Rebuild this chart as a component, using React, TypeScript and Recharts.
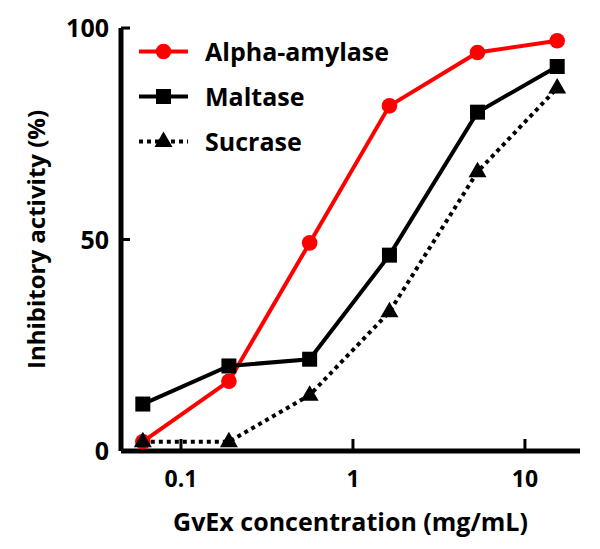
import React from 'react';
import { LineChart, Line, XAxis, YAxis, Legend } from 'recharts';

const concentrations = [0.06, 0.19, 0.56, 1.63, 5.3, 15.4];
const alphaAmylase = [2.2, 16.5, 49.2, 81.6, 94.2, 97.0];
const maltase = [11.1, 20.1, 21.7, 46.3, 80.1, 90.9];
const sucrase = [2.2, 2.2, 13.2, 32.9, 66.0, 85.8];

const xTicks = [0.1, 1, 10];
const yTicks = [0, 50, 100];

const FONT = "'Open Sans', Lato, sans-serif";

const data = concentrations.map((x, i) => ({
  x,
  alpha: alphaAmylase[i],
  maltase: maltase[i],
  sucrase: sucrase[i],
}));

type Shape = 'circle' | 'square' | 'triangle';

const series: { key: string; name: string; color: string; dash?: string; shape: Shape }[] = [
  { key: 'alpha', name: 'Alpha-amylase', color: '#ff0000', shape: 'circle' },
  { key: 'maltase', name: 'Maltase', color: '#000000', shape: 'square' },
  { key: 'sucrase', name: 'Sucrase', color: '#000000', dash: '4 4', shape: 'triangle' },
];

function marker(shape: Shape, cx: number, cy: number, color: string, key?: any) {
  if (shape === 'circle') return <circle key={key} cx={cx} cy={cy} r={7.8} fill={color} />;
  if (shape === 'square') return <rect key={key} x={cx - 7.5} y={cy - 7.5} width={15} height={15} fill={color} />;
  return (
    <polygon
      key={key}
      points={`${cx},${cy - 10} ${cx - 9},${cy + 5.5} ${cx + 9},${cy + 5.5}`}
      fill={color}
    />
  );
}

const makeDot = (shape: Shape, color: string) => (props: any) => {
  const { cx, cy, index } = props;
  if (cx == null || cy == null) return <g key={`d${index}`} />;
  return marker(shape, cx, cy, color, `d${index}`);
};

const XTick = (props: any) => {
  const { x, y, payload } = props;
  return (
    <g>
      <line x1={x} x2={x} y1={y} y2={y - 12} stroke="#000" strokeWidth={3} />
      <text x={x} y={y + 36} textAnchor="middle" fontFamily={FONT} fontWeight="bold" fontSize={23} fill="#000">
        {String(payload.value)}
      </text>
    </g>
  );
};

const YTick = (props: any) => {
  const { x, y, payload } = props;
  return (
    <g>
      <line x1={x} x2={x + 9} y1={y} y2={y} stroke="#000" strokeWidth={3} />
      <text x={x - 12} y={y + 9} textAnchor="end" fontFamily={FONT} fontWeight="bold" fontSize={25} fill="#000">
        {String(payload.value)}
      </text>
    </g>
  );
};

const XLabel = (props: any) => {
  const vb = props.viewBox || {};
  return (
    <text
      x={vb.x + vb.width / 2}
      y={531}
      textAnchor="middle"
      fontFamily={FONT}
      fontWeight="bold"
      fontSize={25}
      fill="#000"
    >
      GvEx concentration (mg/mL)
    </text>
  );
};

const YLabel = (props: any) => {
  const vb = props.viewBox || {};
  const cx = 45;
  const cy = vb.y + vb.height / 2;
  return (
    <text
      x={cx}
      y={cy}
      transform={`rotate(-90, ${cx}, ${cy})`}
      textAnchor="middle"
      fontFamily={FONT}
      fontWeight="bold"
      fontSize={24}
      fill="#000"
    >
      Inhibitory activity (%)
    </text>
  );
};

const LegendContent = (props: any) => {
  const payload = [...(props.payload || [])].sort(
    (a: any, b: any) =>
      series.findIndex((s) => s.name === a.value) - series.findIndex((s) => s.name === b.value)
  );
  return (
    <div style={{ display: 'flex', flexDirection: 'column' }}>
      {payload.map((p: any) => {
        const s = series.find((q) => q.name === p.value)!;
        return (
          <div key={p.value} style={{ display: 'flex', alignItems: 'center', height: 45 }}>
            <svg width={70} height={45} style={{ display: 'block' }}>
              <line
                x1={4}
                x2={53}
                y1={22.5}
                y2={22.5}
                stroke={s.color}
                strokeWidth={4}
                strokeDasharray={s.dash}
              />
              {marker(s.shape, 28.5, 22.5, s.color)}
            </svg>
            <span
              style={{
                fontFamily: FONT,
                fontWeight: 'bold',
                fontSize: 25,
                color: '#000',
                lineHeight: '45px',
                whiteSpace: 'nowrap',
              }}
            >
              {p.value}
            </span>
          </div>
        );
      })}
    </div>
  );
};

export default function App() {
  return (
    <div style={{ position: 'absolute', left: 0, top: 0, width: 600, height: 549, background: '#fff' }}>
      <LineChart width={600} height={549} data={data} margin={{ top: 28, right: 20, bottom: 0, left: 0 }}>
        <XAxis
          dataKey="x"
          type="number"
          scale="log"
          domain={[0.0448, 20.9]}
          allowDataOverflow
          ticks={xTicks}
          tick={<XTick />}
          tickLine={false}
          tickSize={0}
          tickMargin={0}
          axisLine={{ stroke: '#000', strokeWidth: 5 }}
          height={98}
          label={<XLabel />}
          interval={0}
        />
        <YAxis
          type="number"
          domain={[0, 100]}
          ticks={yTicks}
          tick={<YTick />}
          tickLine={false}
          tickSize={0}
          tickMargin={0}
          axisLine={{ stroke: '#000', strokeWidth: 5 }}
          width={121}
          label={<YLabel />}
          interval={0}
        />
        <Legend
          layout="vertical"
          align="center"
          verticalAlign="middle"
          content={<LegendContent />}
          wrapperStyle={{ left: 135, top: 29, width: 'auto', height: 'auto' }}
        />
        {series.map((s) => (
          <Line
            key={s.key}
            dataKey={s.key}
            name={s.name}
            type="linear"
            stroke={s.color}
            strokeWidth={4}
            strokeDasharray={s.dash}
            dot={makeDot(s.shape, s.color)}
            activeDot={false}
            isAnimationActive={false}
          />
        ))}
      </LineChart>
    </div>
  );
}
